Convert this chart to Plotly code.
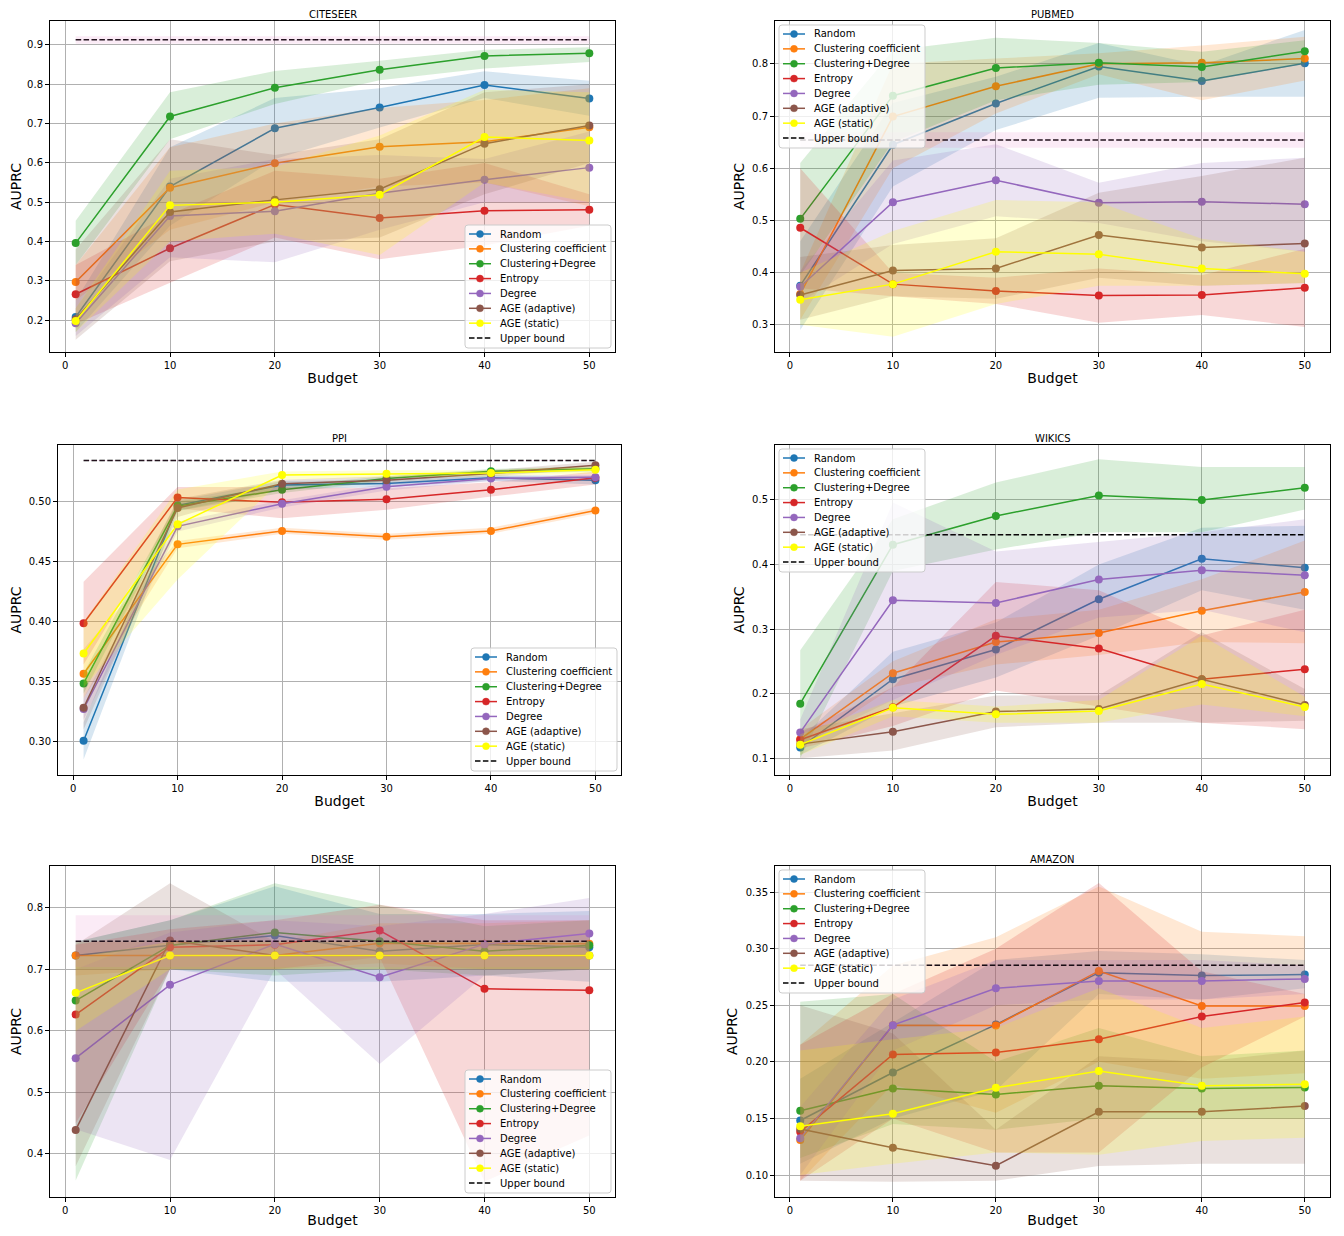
import plotly.graph_objects as go

budget = [1, 10, 20, 30, 40, 50]
methods = ["Random", "Clustering coefficient", "Clustering+Degree", "Entropy",
           "Degree", "AGE (adaptive)", "AGE (static)"]
colors = ["#1f77b4", "#ff7f0e", "#2ca02c", "#d62728", "#9467bd", "#8c564b", "#ffff00"]
band_rgb = ["31,119,180", "255,127,14", "44,160,44", "214,39,40", "148,103,189", "140,86,75", "255,255,0"]
upper_band_rgb = "227,119,194"
datasets = ["CITESEER", "PUBMED", "PPI", "WIKICS", "DISEASE", "AMAZON"]

# ---------------- CITESEER ----------------
citeseer_mean = [
    [0.208, 0.540, 0.688, 0.741, 0.798, 0.764],
    [0.297, 0.537, 0.599, 0.641, 0.654, 0.691],
    [0.396, 0.718, 0.791, 0.837, 0.872, 0.879],
    [0.266, 0.383, 0.494, 0.460, 0.478, 0.481],
    [0.192, 0.465, 0.477, 0.523, 0.557, 0.588],
    [0.202, 0.475, 0.506, 0.533, 0.649, 0.695],
    [0.198, 0.492, 0.500, 0.519, 0.666, 0.657],
]
citeseer_lo = [
    [0.17, 0.44, 0.61, 0.69, 0.765, 0.72],
    [0.25, 0.43, 0.50, 0.54, 0.55, 0.49],
    [0.34, 0.66, 0.75, 0.81, 0.84, 0.857],
    [0.19, 0.295, 0.41, 0.355, 0.39, 0.44],
    [0.16, 0.36, 0.347, 0.43, 0.50, 0.50],
    [0.15, 0.35, 0.40, 0.41, 0.52, 0.60],
    [0.17, 0.40, 0.42, 0.366, 0.55, 0.50],
]
citeseer_hi = [
    [0.25, 0.64, 0.765, 0.79, 0.833, 0.809],
    [0.34, 0.64, 0.70, 0.74, 0.76, 0.79],
    [0.453, 0.78, 0.834, 0.86, 0.888, 0.894],
    [0.34, 0.47, 0.58, 0.56, 0.60, 0.52],
    [0.23, 0.56, 0.61, 0.62, 0.61, 0.68],
    [0.38, 0.66, 0.62, 0.66, 0.78, 0.80],
    [0.23, 0.58, 0.59, 0.67, 0.786, 0.78],
]
citeseer_upper = [0.913, 0.903, 0.922]

# ---------------- PUBMED ----------------
pubmed_mean = [
    [0.375, 0.645, 0.724, 0.795, 0.767, 0.801],
    [0.359, 0.699, 0.757, 0.800, 0.802, 0.810],
    [0.503, 0.739, 0.792, 0.802, 0.794, 0.824],
    [0.486, 0.378, 0.365, 0.356, 0.357, 0.371],
    [0.373, 0.535, 0.577, 0.534, 0.536, 0.531],
    [0.357, 0.404, 0.408, 0.472, 0.448, 0.456],
    [0.348, 0.378, 0.440, 0.435, 0.408, 0.398],
]
pubmed_lo = [
    [0.29, 0.565, 0.673, 0.735, 0.737, 0.737],
    [0.31, 0.60, 0.705, 0.78, 0.73, 0.768],
    [0.395, 0.65, 0.73, 0.76, 0.765, 0.80],
    [0.37, 0.355, 0.34, 0.304, 0.319, 0.296],
    [0.343, 0.455, 0.508, 0.495, 0.46, 0.44],
    [0.31, 0.355, 0.35, 0.39, 0.375, 0.38],
    [0.30, 0.277, 0.34, 0.375, 0.375, 0.38],
]
pubmed_hi = [
    [0.46, 0.725, 0.775, 0.84, 0.797, 0.865],
    [0.40, 0.80, 0.81, 0.82, 0.835, 0.852],
    [0.61, 0.826, 0.85, 0.84, 0.823, 0.845],
    [0.60, 0.40, 0.39, 0.408, 0.395, 0.446],
    [0.403, 0.615, 0.646, 0.572, 0.61, 0.62],
    [0.43, 0.453, 0.466, 0.553, 0.585, 0.62],
    [0.40, 0.48, 0.539, 0.535, 0.465, 0.44],
]
pubmed_upper = [0.654, 0.639, 0.669]

# ---------------- PPI ----------------
ppi_mean = [
    [0.3006, 0.4967, 0.5136, 0.5150, 0.5197, 0.5177],
    [0.3564, 0.4642, 0.4753, 0.4706, 0.4753, 0.4925],
    [0.3483, 0.4961, 0.5097, 0.5191, 0.5252, 0.5272],
    [0.3985, 0.5033, 0.4992, 0.5017, 0.5097, 0.5197],
    [0.3270, 0.4792, 0.4981, 0.5122, 0.5191, 0.5202],
    [0.3280, 0.4945, 0.5147, 0.5177, 0.5233, 0.5302],
    [0.3733, 0.4809, 0.5219, 0.5230, 0.5236, 0.5264],
]
ppi_lo = [
    [0.285, 0.492, 0.510, 0.512, 0.517, 0.514],
    [0.336, 0.461, 0.473, 0.468, 0.473, 0.490],
    [0.340, 0.492, 0.507, 0.517, 0.523, 0.525],
    [0.364, 0.494, 0.486, 0.493, 0.504, 0.514],
    [0.318, 0.475, 0.495, 0.509, 0.517, 0.518],
    [0.310, 0.487, 0.511, 0.515, 0.521, 0.527],
    [0.345, 0.435, 0.518, 0.520, 0.521, 0.523],
]
ppi_hi = [
    [0.316, 0.501, 0.517, 0.518, 0.522, 0.521],
    [0.377, 0.467, 0.478, 0.473, 0.478, 0.495],
    [0.357, 0.500, 0.513, 0.521, 0.527, 0.529],
    [0.433, 0.512, 0.512, 0.511, 0.516, 0.525],
    [0.336, 0.483, 0.501, 0.515, 0.521, 0.522],
    [0.346, 0.502, 0.518, 0.521, 0.526, 0.533],
    [0.400, 0.510, 0.525, 0.526, 0.526, 0.529],
]
ppi_upper = [0.5341, 0.5336, 0.5346]

# ---------------- WIKICS ----------------
wikics_mean = [
    [0.1166, 0.2223, 0.2684, 0.3461, 0.4088, 0.3948],
    [0.1295, 0.2316, 0.2798, 0.2938, 0.3285, 0.3575],
    [0.1845, 0.4306, 0.4751, 0.5067, 0.5000, 0.5187],
    [0.1285, 0.1788, 0.2896, 0.2700, 0.2223, 0.2378],
    [0.1400, 0.3446, 0.3404, 0.3767, 0.3912, 0.3834],
    [0.1218, 0.1410, 0.1725, 0.1762, 0.2223, 0.1824],
    [0.1210, 0.1782, 0.1679, 0.1731, 0.2150, 0.1793],
]
wikics_lo = [
    [0.105, 0.18, 0.225, 0.29, 0.36, 0.33],
    [0.115, 0.21, 0.245, 0.26, 0.28, 0.278],
    [0.10, 0.39, 0.423, 0.45, 0.45, 0.485],
    [0.115, 0.15, 0.205, 0.18, 0.155, 0.145],
    [0.12, 0.19, 0.26, 0.318, 0.33, 0.295],
    [0.10, 0.112, 0.148, 0.155, 0.155, 0.158],
    [0.105, 0.165, 0.155, 0.155, 0.183, 0.165],
]
wikics_hi = [
    [0.13, 0.265, 0.31, 0.40, 0.457, 0.46],
    [0.145, 0.25, 0.315, 0.33, 0.377, 0.437],
    [0.267, 0.47, 0.527, 0.563, 0.551, 0.551],
    [0.14, 0.21, 0.373, 0.36, 0.29, 0.33],
    [0.16, 0.496, 0.42, 0.435, 0.45, 0.47],
    [0.145, 0.17, 0.197, 0.197, 0.295, 0.207],
    [0.137, 0.19, 0.18, 0.19, 0.29, 0.195],
]
wikics_upper = [0.4461, 0.4456, 0.4466]

# ---------------- DISEASE ----------------
disease_mean = [
    [0.7225, 0.7393, 0.7550, 0.7295, 0.7404, 0.7360],
    [0.7225, 0.7225, 0.7225, 0.7425, 0.7415, 0.7415],
    [0.6493, 0.7390, 0.7600, 0.7458, 0.7295, 0.7390],
    [0.6266, 0.7360, 0.7400, 0.7630, 0.6683, 0.6661],
    [0.5556, 0.6748, 0.7410, 0.6873, 0.7410, 0.7583],
    [0.4390, 0.7469, 0.7225, 0.7225, 0.7225, 0.7225],
    [0.6618, 0.7225, 0.7225, 0.7225, 0.7225, 0.7225],
]
disease_lo = [
    [0.70, 0.70, 0.68, 0.68, 0.69, 0.68],
    [0.69, 0.70, 0.70, 0.71, 0.70, 0.70],
    [0.357, 0.70, 0.69, 0.70, 0.69, 0.70],
    [0.45, 0.70, 0.70, 0.72, 0.355, 0.43],
    [0.44, 0.39, 0.70, 0.546, 0.69, 0.70],
    [0.38, 0.70, 0.70, 0.70, 0.70, 0.70],
    [0.60, 0.70, 0.70, 0.70, 0.70, 0.70],
]
disease_hi = [
    [0.745, 0.78, 0.835, 0.79, 0.79, 0.795],
    [0.745, 0.745, 0.745, 0.775, 0.775, 0.78],
    [0.745, 0.78, 0.84, 0.805, 0.77, 0.78],
    [0.74, 0.765, 0.78, 0.805, 0.78, 0.78],
    [0.70, 0.76, 0.78, 0.77, 0.79, 0.816],
    [0.74, 0.84, 0.745, 0.745, 0.745, 0.745],
    [0.72, 0.745, 0.745, 0.745, 0.745, 0.745],
]
disease_upper = [0.7458, 0.704, 0.788]

# ---------------- AMAZON ----------------
amazon_mean = [
    [0.1482, 0.1906, 0.2329, 0.2788, 0.2762, 0.2771],
    [0.1309, 0.2324, 0.2321, 0.2803, 0.2494, 0.2494],
    [0.1568, 0.1765, 0.1712, 0.1788, 0.1765, 0.1774],
    [0.1382, 0.2065, 0.2082, 0.2200, 0.2400, 0.2524],
    [0.1324, 0.2324, 0.2650, 0.2715, 0.2715, 0.2732],
    [0.1406, 0.1241, 0.1082, 0.1559, 0.1559, 0.1609],
    [0.1432, 0.1541, 0.1771, 0.1918, 0.1788, 0.1803],
]
amazon_lo = [
    [0.11, 0.15, 0.175, 0.26, 0.255, 0.265],
    [0.095, 0.18, 0.155, 0.20, 0.185, 0.19],
    [0.115, 0.145, 0.14, 0.15, 0.15, 0.15],
    [0.095, 0.15, 0.12, 0.12, 0.195, 0.24],
    [0.10, 0.21, 0.25, 0.255, 0.255, 0.26],
    [0.095, 0.094, 0.095, 0.108, 0.11, 0.11],
    [0.10, 0.11, 0.12, 0.118, 0.13, 0.133],
]
amazon_hi = [
    [0.185, 0.235, 0.29, 0.298, 0.295, 0.29],
    [0.215, 0.285, 0.31, 0.355, 0.315, 0.311],
    [0.253, 0.26, 0.20, 0.23, 0.205, 0.21],
    [0.215, 0.26, 0.30, 0.358, 0.28, 0.26],
    [0.16, 0.255, 0.29, 0.29, 0.29, 0.285],
    [0.25, 0.225, 0.14, 0.205, 0.20, 0.21],
    [0.21, 0.22, 0.23, 0.265, 0.23, 0.24],
]
amazon_upper = [0.2853, 0.2848, 0.2858]

data = [
    (citeseer_mean, citeseer_lo, citeseer_hi, citeseer_upper),
    (pubmed_mean, pubmed_lo, pubmed_hi, pubmed_upper),
    (ppi_mean, ppi_lo, ppi_hi, ppi_upper),
    (wikics_mean, wikics_lo, wikics_hi, wikics_upper),
    (disease_mean, disease_lo, disease_hi, disease_upper),
    (amazon_mean, amazon_lo, amazon_hi, amazon_upper),
]

# ---------------- layout geometry (page pixels) ----------------
PAGE_OFF = 8            # default body margin of the html page
W, H = 1328, 1220       # figure size so it fits the 1344x1236 window


def px(p):
    return (p - PAGE_OFF) / W


def py(p):
    return 1 - (p - PAGE_OFF) / H


# (left, right, top, bottom) of each axes box in page pixels
boxes = [
    (50, 615, 21, 352), (775, 1330, 21, 352),
    (58, 621, 445, 775), (775, 1330, 445, 775),
    (50, 615, 866, 1197), (775, 1330, 866, 1197),
]
yranges = [(0.119, 0.961), (0.248, 0.882), (0.272, 0.547),
           (0.074, 0.585), (0.330, 0.868), (0.0806, 0.373)]
ydticks = [0.1, 0.1, 0.05, 0.1, 0.1, 0.05]
yfmt = [".1f", ".1f", ".2f", ".1f", ".1f", ".2f"]
legend_corner = ["lower right", "upper left", "lower right", "upper left", "lower right", "upper left"]

LEG_W, LEG_H, LEG_INSET, LEG_STEP = 146, 123, 4, 14.86

fig = go.Figure()
FONT = "DejaVu Sans"
shapes = []
annotations = []


def rounded_rect_path(x0, y0, x1, y1, rad=3):
    pts = []
    pts.append("M %f,%f" % (px(x0 + rad), py(y0)))
    pts.append("L %f,%f" % (px(x1 - rad), py(y0)))
    pts.append("Q %f,%f %f,%f" % (px(x1), py(y0), px(x1), py(y0 + rad)))
    pts.append("L %f,%f" % (px(x1), py(y1 - rad)))
    pts.append("Q %f,%f %f,%f" % (px(x1), py(y1), px(x1 - rad), py(y1)))
    pts.append("L %f,%f" % (px(x0 + rad), py(y1)))
    pts.append("Q %f,%f %f,%f" % (px(x0), py(y1), px(x0), py(y1 - rad)))
    pts.append("L %f,%f" % (px(x0), py(y0 + rad)))
    pts.append("Q %f,%f %f,%f" % (px(x0), py(y0), px(x0 + rad), py(y0)))
    pts.append("Z")
    return " ".join(pts)


for k, (mean, lo, hi, upper) in enumerate(data):
    ax = "" if k == 0 else str(k + 1)
    xref, yref = "x" + ax, "y" + ax
    for i, m in enumerate(methods):
        fig.add_trace(go.Scatter(
            x=budget, y=mean[i], mode="lines+markers", name=m,
            line=dict(color=colors[i], width=1.5),
            marker=dict(color=colors[i], size=8),
            xaxis=xref, yaxis=yref, showlegend=False))
        fig.add_trace(go.Scatter(
            x=budget + budget[::-1], y=hi[i] + lo[i][::-1],
            fill="toself", fillcolor="rgba(%s,0.18)" % band_rgb[i],
            line=dict(width=0), mode="lines", hoverinfo="skip",
            showlegend=False, xaxis=xref, yaxis=yref))
    uv, ulo, uhi = upper
    fig.add_trace(go.Scatter(
        x=[budget[0], budget[-1]], y=[uv, uv], mode="lines", name="Upper bound",
        line=dict(color="black", width=1.5, dash="5.5px,2.4px"),
        xaxis=xref, yaxis=yref, showlegend=False))
    fig.add_trace(go.Scatter(
        x=[budget[0], budget[-1], budget[-1], budget[0]], y=[uhi, uhi, ulo, ulo],
        fill="toself", fillcolor="rgba(%s,0.15)" % upper_band_rgb,
        line=dict(width=0), mode="lines", hoverinfo="skip",
        showlegend=False, xaxis=xref, yaxis=yref))

    l, r, t, b = boxes[k]
    axis_common = dict(showline=True, linecolor="black", linewidth=1, mirror=True,
                       showgrid=True, gridcolor="#b0b0b0", gridwidth=1,
                       zeroline=False, ticks="outside", ticklen=4, tickcolor="black",
                       tickfont=dict(size=10, color="black", family=FONT))
    fig.layout["xaxis" + ax] = dict(
        domain=[px(l), px(r)], anchor=yref, range=[-1.45, 52.45],
        tick0=0, dtick=10,
        title=dict(text="Budget", font=dict(size=14, color="black", family=FONT), standoff=3),
        **axis_common)
    fig.layout["yaxis" + ax] = dict(
        domain=[py(b), py(t)], anchor=xref, range=list(yranges[k]),
        tick0=0, dtick=ydticks[k], tickformat=yfmt[k],
        title=dict(text="AUPRC", font=dict(size=14, color="black", family=FONT), standoff=4),
        **axis_common)
    annotations.append(dict(text=datasets[k], xref="paper", yref="paper",
                            x=px((l + r) / 2), y=py(t - 7), xanchor="center", yanchor="middle",
                            showarrow=False, font=dict(size=10, color="black", family=FONT)))

    # ---- legend box (matplotlib style) ----
    if legend_corner[k] == "lower right":
        bx1, by1 = r - LEG_INSET, b - LEG_INSET
        bx0, by0 = bx1 - LEG_W, by1 - LEG_H
    else:
        bx0, by0 = l + LEG_INSET, t + LEG_INSET
        bx1, by1 = bx0 + LEG_W, by0 + LEG_H
    shapes.append(dict(type="path", xref="paper", yref="paper",
                       path=rounded_rect_path(bx0, by0, bx1, by1),
                       fillcolor="rgba(255,255,255,0.8)", line=dict(color="#cccccc", width=1),
                       layer="above"))
    labels = methods + ["Upper bound"]
    for j, lab in enumerate(labels):
        yy = by0 + 9 + j * LEG_STEP
        if j < len(methods):
            c = colors[j]
            shapes.append(dict(type="line", xref="paper", yref="paper",
                               x0=px(bx0 + 4), x1=px(bx0 + 26), y0=py(yy), y1=py(yy),
                               line=dict(color=c, width=1.5), layer="above"))
            shapes.append(dict(type="circle", xref="paper", yref="paper",
                               x0=px(bx0 + 11.5), x1=px(bx0 + 18.5),
                               y0=py(yy + 3.5), y1=py(yy - 3.5),
                               fillcolor=c, line=dict(color=c, width=0.5), layer="above"))
        else:
            shapes.append(dict(type="line", xref="paper", yref="paper",
                               x0=px(bx0 + 4), x1=px(bx0 + 26), y0=py(yy), y1=py(yy),
                               line=dict(color="black", width=1.5, dash="5.5px,2.4px"),
                               layer="above"))
        annotations.append(dict(text=lab, xref="paper", yref="paper",
                                x=px(bx0 + 33), y=py(yy), xanchor="left", yanchor="middle",
                                showarrow=False,
                                font=dict(size=10, color="black", family=FONT)))

fig.update_layout(width=W, height=H, margin=dict(l=0, r=0, t=0, b=0),
                  paper_bgcolor="white", plot_bgcolor="white",
                  font=dict(family=FONT, color="black"),
                  showlegend=False, shapes=shapes, annotations=annotations)

fig.write_html("out.html")
